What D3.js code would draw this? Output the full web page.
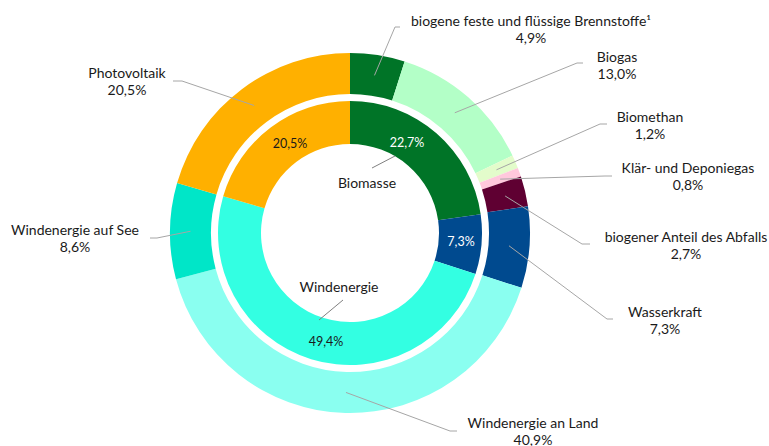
<!DOCTYPE html>
<html lang="de">
<head>
    <meta charset="UTF-8">
    <title>Erneuerbare Energien</title>
    <script src="https://d3js.org/d3.v7.min.js"></script>
    <style>
        body { margin: 0; background: #fff; }
        svg text { font-family: Lato, "Open Sans", sans-serif; fill: #1a1a1a; }
        .leader { fill: none; stroke: #a6a6a6; stroke-width: 1; }
    </style>
</head>
<body>
    <div id="chart"></div>
    <script>
        // outer ring
        const outerNames = ["biogene feste und flüssige Brennstoffe¹", "Biogas", "Biomethan", "Klär- und Deponiegas",
            "biogener Anteil des Abfalls", "Wasserkraft", "Windenergie an Land", "Windenergie auf See", "Photovoltaik"];
        const outerValues = [4.9, 13.0, 1.2, 0.8, 2.7, 7.3, 40.9, 8.6, 20.5];
        const outerColors = ["#007427", "#b3ffc7", "#e3fccb", "#ffc8dc", "#5f0032", "#004a8f", "#8afff0", "#00e6c8", "#ffb000"];

        // inner ring
        const innerNames = ["Biomasse", "Wasserkraft", "Windenergie", "Photovoltaik"];
        const innerValues = [22.7, 7.3, 49.4, 20.5];
        const innerColors = ["#007427", "#004a8f", "#33ffe2", "#ffb000"];

        const fmt = v => v.toFixed(1).replace(".", ",") + "%";

        const width = 769, height = 446;
        const cx = 350, cy = 233;

        // label layout for outer ring: text centre, elbow, line end
        const outerLabelPos = [
            { x: 531, y: 21, ex: 395, ey: 27, hx: 400 },
            { x: 617, y: 57, ex: 577, ey: 63, hx: 583 },
            { x: 650, y: 117, ex: 600, ey: 124, hx: 607 },
            { x: 688, y: 168, ex: 605, ey: 176, hx: 612 },
            { x: 686, y: 237, ex: 582, ey: 244, hx: 590 },
            { x: 665, y: 312, ex: 607, ey: 319, hx: 613 },
            { x: 533, y: 423, ex: 450, ey: 431, hx: 457 },
            { x: 75, y: 230, ex: 157, ey: 238, hx: 150 },
            { x: 127, y: 73, ex: 182, ey: 81, hx: 173 }
        ];

        const svg = d3.select("#chart").append("svg")
            .attr("width", width)
            .attr("height", height);

        const g = svg.append("g").attr("transform", "translate(" + cx + "," + cy + ")");

        const pie = d3.pie().sort(null).value(d => d);

        const outerArc = d3.arc().innerRadius(139).outerRadius(180);
        const innerArc = d3.arc().innerRadius(89).outerRadius(132);

        const outerColor = d3.scaleOrdinal().domain(outerNames).range(outerColors);
        const innerColor = d3.scaleOrdinal().domain(innerNames).range(innerColors);

        const outerData = pie(outerValues);
        const innerData = pie(innerValues);

        g.selectAll(".outer")
            .data(outerData)
            .enter()
            .append("path")
            .attr("class", "outer")
            .attr("d", outerArc)
            .attr("fill", (d, i) => outerColor(outerNames[i]));

        g.selectAll(".inner")
            .data(innerData)
            .enter()
            .append("path")
            .attr("class", "inner")
            .attr("d", innerArc)
            .attr("fill", (d, i) => innerColor(innerNames[i]));

        // outer labels with leader lines
        const labels = svg.append("g");
        outerData.forEach(function(d, i) {
            const c = outerArc.centroid(d);
            const p = outerLabelPos[i];
            labels.append("polyline")
                .attr("class", "leader")
                .attr("points", [[cx + c[0], cy + c[1]], [p.ex, p.ey], [p.hx, p.ey]].map(q => q.join(",")).join(" "));
            const t = labels.append("text")
                .attr("text-anchor", "middle")
                .attr("font-size", "14px");
            t.append("tspan").attr("x", p.x).attr("y", p.y).attr("dy", "0.35em").text(outerNames[i]);
            t.append("tspan").attr("x", p.x).attr("y", p.y + 17.5).attr("dy", "0.35em").text(fmt(outerValues[i]));
        });

        // inner ring labels
        const innerValuePos = [[407, 143], [461, 242], [326, 342], [290, 144]];
        const innerValueFill = ["#fff", "#fff", "#1a1a1a", "#1a1a1a"];
        innerValues.forEach(function(v, i) {
            labels.append("text")
                .attr("x", innerValuePos[i][0])
                .attr("y", innerValuePos[i][1])
                .attr("dy", "0.35em")
                .attr("text-anchor", "middle")
                .attr("font-size", "12.5px")
                .style("fill", innerValueFill[i])
                .text(fmt(v));
        });

        // group names in the centre
        const groupPos = [
            { name: "Biomasse", x: 367, y: 183, line: [[372, 168], [395, 156]] },
            { name: "Windenergie", x: 339, y: 287, line: [[343, 300], [319, 320]] }
        ];
        groupPos.forEach(function(p) {
            labels.append("polyline")
                .attr("class", "leader")
                .style("stroke", "#808080")
                .attr("points", p.line.map(q => q.join(",")).join(" "));
            labels.append("text")
                .attr("x", p.x)
                .attr("y", p.y)
                .attr("dy", "0.35em")
                .attr("text-anchor", "middle")
                .attr("font-size", "14px")
                .text(p.name);
        });
    </script>
</body>
</html>
